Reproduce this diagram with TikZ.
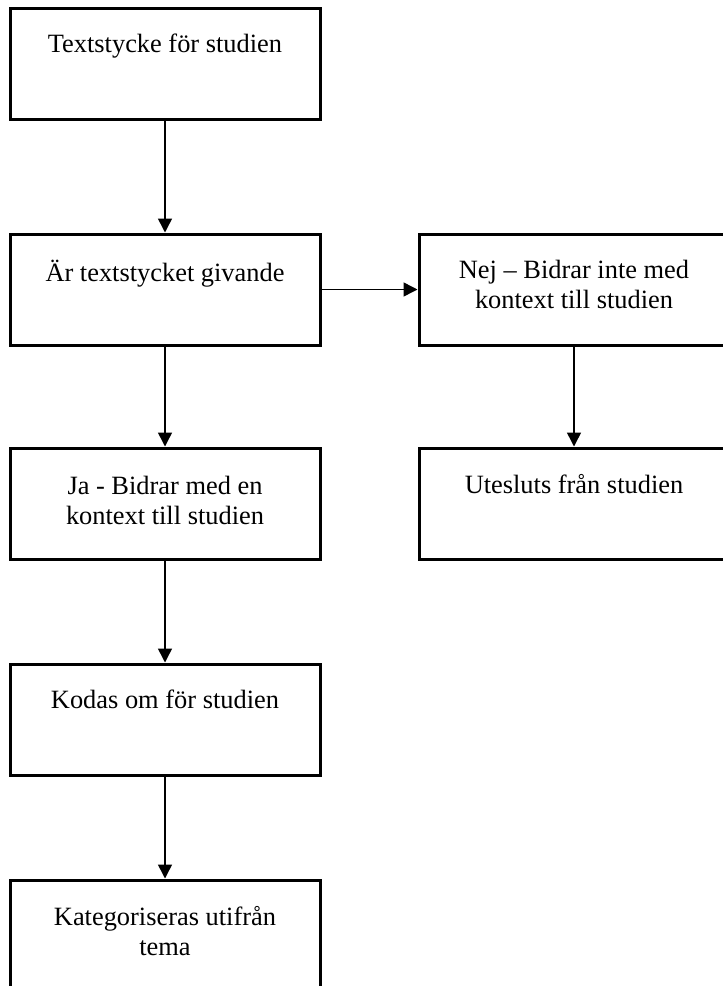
\documentclass[tikz,border=0pt]{standalone}
\usepackage{fontspec}
\setmainfont{Liberation Serif}
\usetikzlibrary{arrows.meta, positioning}

\begin{document}
\begin{tikzpicture}[x=0.5pt, y=-0.5pt, box/.style={draw, line width=1.5pt, minimum width=155pt, minimum height=55.5pt, inner sep=0pt}, txt/.style={font=\fontsize{13.2}{15}\selectfont, align=center, inner sep=0pt}, arr/.style={-{Triangle[length=7pt, width=7pt]}, line width=0.75pt}]
\useasboundingbox (0,0) rectangle (723,986);

% left column
\node[box] (text) at (165,63.5) {}; \node[txt, below=13.5pt of text.north] (textL) {Textstycke för studien};
\node[box] (fraga) at (165,289.5) {}; \node[txt, below=13.5pt of fraga.north] (fragaL) {Är textstycket givande};
\node[box] (ja) at (165,503.5) {}; \node[txt, below=14.5pt of ja.north] (jaL) {Ja - Bidrar med en\\kontext till studien};
\node[box] (kodas) at (165,719.5) {}; \node[txt, below=13.5pt of kodas.north] (kodasL) {Kodas om för studien};
\node[box] (kat) at (165,935.5) {}; \node[txt, below=13.5pt of kat.north] (katL) {Kategoriseras utifrån\\tema};

% right column
\node[box] (nej) at (574,289.5) {}; \node[txt, below=13.5pt of nej.north] (nejL) {Nej – Bidrar inte med\\kontext till studien};
\node[box] (ut) at (574,503.5) {}; \node[txt, below=13.5pt of ut.north] (utL) {Utesluts från studien};

\draw[arr] (text.south)--(fraga.north); \draw[arr] (fraga.south)--(ja.north); \draw[arr] (ja.south)--(kodas.north); \draw[arr] (kodas.south)--(kat.north);
\draw[arr] (fraga.east)--(nej.west); \draw[arr] (nej.south)--(ut.north);
\end{tikzpicture}
\end{document}
